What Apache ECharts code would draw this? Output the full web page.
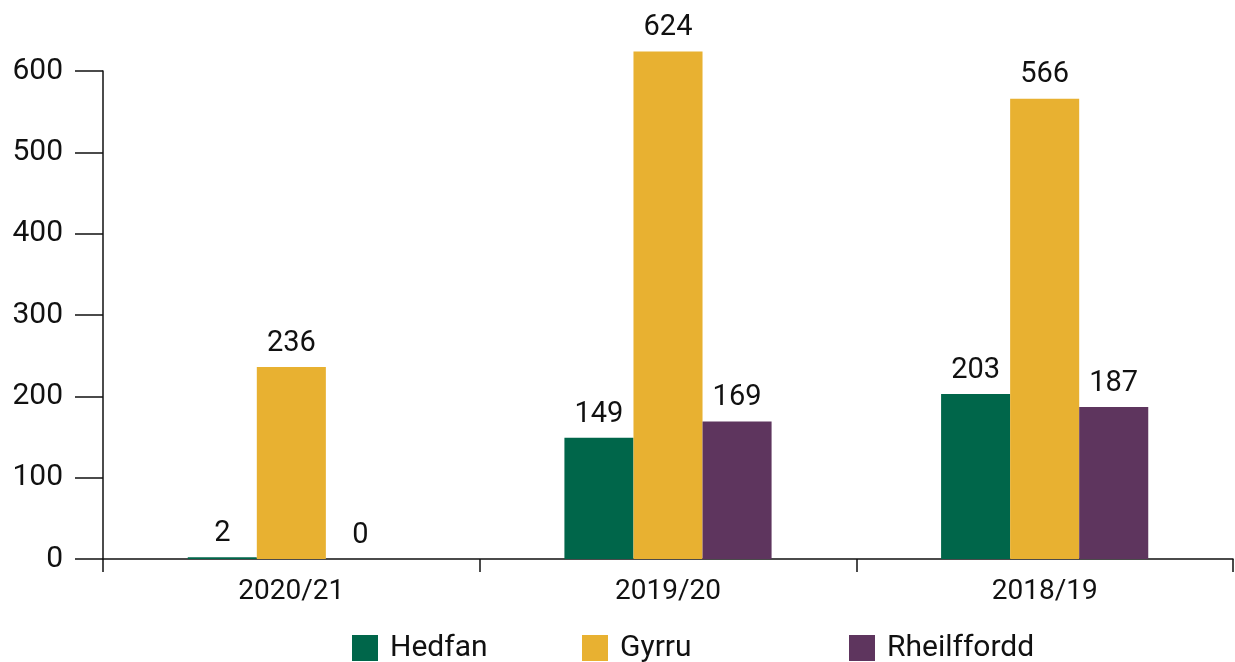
<!DOCTYPE html>
<html><head><meta charset="utf-8">
<script src="https://cdn.jsdelivr.net/npm/echarts@6/dist/echarts.min.js"></script>
<style>html,body{margin:0;padding:0;background:#fff}#c{width:1235px;height:662px}</style>
</head><body><div id="c"></div>
<script>
const categories = ['2020/21', '2019/20', '2018/19'];
const seriesNames = ['Hedfan', 'Gyrru', 'Rheilffordd'];
const hedfan = [2, 149, 203];
const gyrru = [236, 624, 566];
const rheilffordd = [0, 169, 187];
const colors = ['#00664A', '#E8B131', '#5E355E'];
const FONT = 'Roboto';
const chart = echarts.init(document.getElementById('c'));
const values = [hedfan, gyrru, rheilffordd];
const legendLefts = [347, 577, 844];
chart.setOption({
  animation: false,
  textStyle: {fontFamily: FONT},
  grid: {left: 103, right: 2, top: 71, bottom: 103, containLabel: false},
  legend: seriesNames.map((n, i) => ({
    data: [n], left: legendLefts[i], top: 628, itemWidth: 26, itemHeight: 26,
    itemGap: 10, icon: 'rect',
    textStyle: {fontSize: 30, color: '#111', fontFamily: FONT, padding: [0, 0, 0, 7]}
  })),
  xAxis: {
    type: 'category', data: categories,
    axisLine: {lineStyle: {color: '#111', width: 1.5}},
    axisTick: {show: true, length: 13, lineStyle: {color: '#111', width: 1.5}},
    axisLabel: {fontSize: 28, color: '#111', margin: 19, fontFamily: FONT}
  },
  yAxis: {
    type: 'value', min: 0, max: 600, interval: 100,
    axisLine: {show: true, lineStyle: {color: '#111', width: 1.5}},
    axisTick: {show: true, length: 28, lineStyle: {color: '#111', width: 1.5}},
    axisLabel: {fontSize: 30, color: '#111', margin: 40, fontFamily: FONT},
    splitLine: {show: false}
  },
  series: seriesNames.map((n, i) => ({
    name: n, type: 'bar', data: values[i], clip: false,
    barGap: '0%', barCategoryGap: '45%',
    itemStyle: {color: colors[i]},
    label: {show: true, position: 'top', fontSize: 29, color: '#111', distance: 9, fontFamily: FONT}
  }))
});
</script></body></html>
